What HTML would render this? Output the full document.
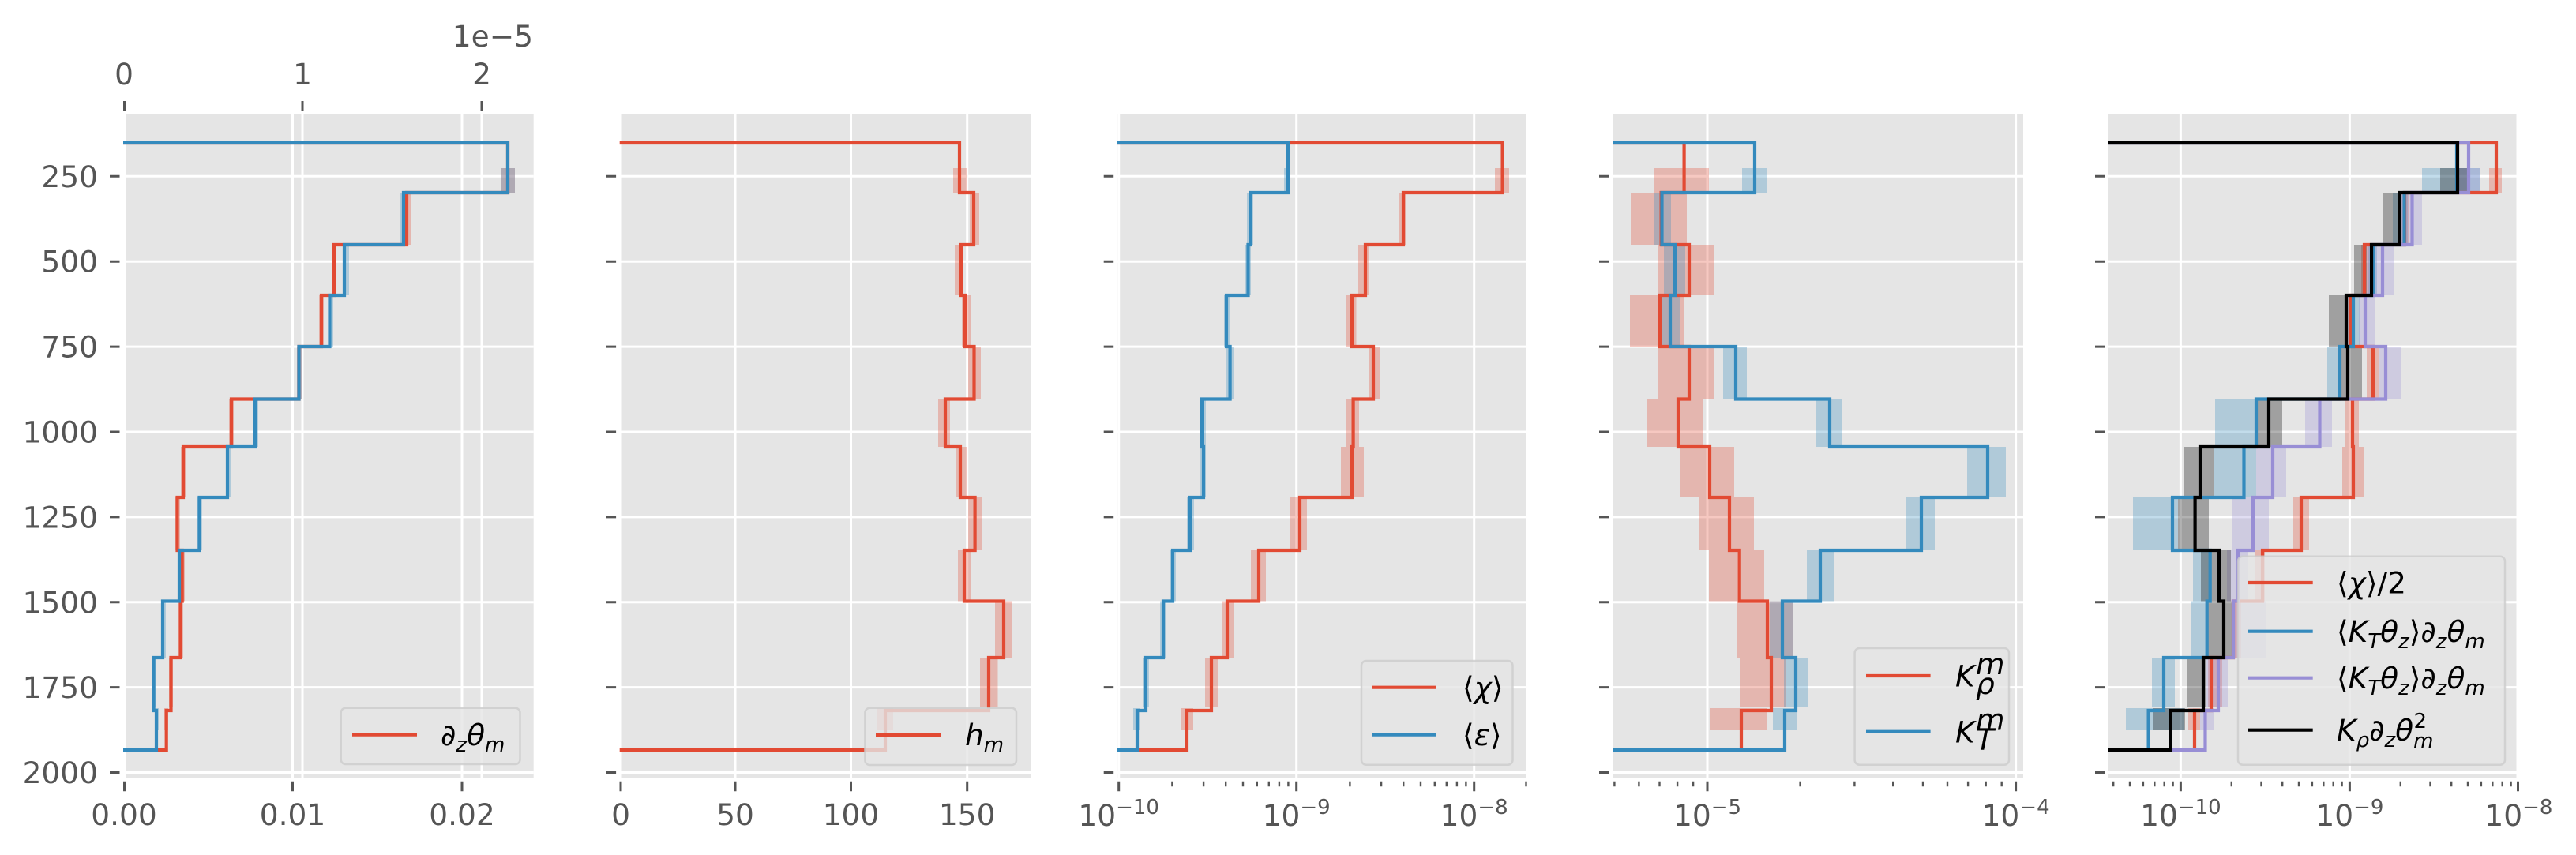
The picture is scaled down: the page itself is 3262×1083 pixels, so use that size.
<!DOCTYPE html>
<html><head><meta charset="utf-8"><style>
html,body{margin:0;padding:0;background:#fff;}
svg{display:block;font-family:"DejaVu Sans","Liberation Sans",sans-serif;}
.tl{font-size:37.5px;fill:#555555;}
.lg{font-size:37.5px;fill:#000;font-style:italic;}
.grid{stroke:#fff;stroke-width:3;}
.tk{stroke:#555555;stroke-width:3;}
.mtk{stroke:#555555;stroke-width:2.4;}
.ln{fill:none;stroke-width:4.2;stroke-linejoin:miter;stroke-linecap:butt;}
.leg{fill:#E5E5E5;fill-opacity:0.8;stroke:#CCCCCC;stroke-opacity:0.8;stroke-width:2.5;}
</style></head><body>
<svg width="3262" height="1083" viewBox="0 0 3262 1083" xmlns="http://www.w3.org/2000/svg">
<defs>
<clipPath id="c1"><rect x="156" y="144" width="519.7" height="841.7"/></clipPath>
<clipPath id="c2"><rect x="784.6" y="144" width="520.4" height="841.7"/></clipPath>
<clipPath id="c3"><rect x="1414.7" y="144" width="518.3" height="841.7"/></clipPath>
<clipPath id="c4"><rect x="2042" y="144" width="520" height="841.7"/></clipPath>
<clipPath id="c5"><rect x="2670" y="144" width="519.5" height="841.7"/></clipPath>
</defs>
<rect width="3262" height="1083" fill="#fff"/>

<!-- axes backgrounds -->
<rect x="156" y="144" width="519.7" height="841.7" fill="#E5E5E5"/>
<rect x="784.6" y="144" width="520.4" height="841.7" fill="#E5E5E5"/>
<rect x="1414.7" y="144" width="518.3" height="841.7" fill="#E5E5E5"/>
<rect x="2042" y="144" width="520" height="841.7" fill="#E5E5E5"/>
<rect x="2670" y="144" width="519.5" height="841.7" fill="#E5E5E5"/>

<!-- horizontal gridlines -->
<g class="grid">
<path d="M156,223.3H675.7M156,331.2H675.7M156,439.1H675.7M156,547H675.7M156,654.9H675.7M156,762.8H675.7M156,870.6H675.7M156,978.5H675.7"/>
<path d="M784.6,223.3H1305M784.6,331.2H1305M784.6,439.1H1305M784.6,547H1305M784.6,654.9H1305M784.6,762.8H1305M784.6,870.6H1305M784.6,978.5H1305"/>
<path d="M1414.7,223.3H1933M1414.7,331.2H1933M1414.7,439.1H1933M1414.7,547H1933M1414.7,654.9H1933M1414.7,762.8H1933M1414.7,870.6H1933M1414.7,978.5H1933"/>
<path d="M2042,223.3H2562M2042,331.2H2562M2042,439.1H2562M2042,547H2562M2042,654.9H2562M2042,762.8H2562M2042,870.6H2562M2042,978.5H2562"/>
<path d="M2670,223.3H3189.5M2670,331.2H3189.5M2670,439.1H3189.5M2670,547H3189.5M2670,654.9H3189.5M2670,762.8H3189.5M2670,870.6H3189.5M2670,978.5H3189.5"/>
<!-- vertical gridlines -->
<path d="M157.5,144V985.7M370.5,144V985.7M585,144V985.7M383,144V985.7M610,144V985.7"/>
<path d="M786,144V985.7M931,144V985.7M1077.5,144V985.7M1224.7,144V985.7"/>
<path d="M1416.7,144V985.7M1641.7,144V985.7M1866.7,144V985.7"/>
<path d="M2162,144V985.7M2552.6,144V985.7"/>
<path d="M2761.4,144V985.7M2975.4,144V985.7M3188,144V985.7"/>
</g>

<!-- ===== Panel 1 ===== -->
<g clip-path="url(#c1)">
<g fill="#E24A33" fill-opacity="0.3">
<rect x="634" y="213" width="18" height="32"/>
<rect x="512.5" y="245" width="8" height="65"/>
<rect x="420" y="310" width="6" height="64"/>
<rect x="404" y="374" width="6" height="65"/>
<rect x="376" y="439" width="6" height="66.5"/>
<rect x="290" y="505.5" width="6" height="60.5"/>
<rect x="229" y="566" width="6" height="64"/>
<rect x="222" y="630" width="6" height="67"/>
<rect x="228" y="697" width="6" height="64.5"/>
<rect x="226" y="761.5" width="6" height="71.5"/>
<rect x="214" y="833" width="5" height="63"/>
<rect x="208" y="897" width="5" height="28"/>
</g>
<g fill="#348ABD" fill-opacity="0.3">
<rect x="634" y="213" width="18" height="32"/>
<rect x="506.6" y="245" width="6" height="65"/>
<rect x="435" y="310" width="7" height="64"/>
<rect x="416" y="374" width="6" height="65"/>
<rect x="377" y="439" width="6" height="66.5"/>
<rect x="321" y="505.5" width="6" height="60.5"/>
<rect x="286" y="566" width="6" height="64"/>
<rect x="250" y="630" width="6" height="67"/>
<rect x="225" y="697" width="6" height="64.5"/>
<rect x="204" y="761.5" width="6" height="71.5"/>
<rect x="193" y="833" width="5" height="63"/>
<rect x="196" y="897" width="5" height="28"/>
</g>
<path class="ln" stroke="#E24A33" d="M156,181H643V244H515V310H423V374H407V439H378.5V505.5H293V566H232V630H224.5V697H230.7V761.5H228.6V833H216.5V900H210.7V950H156"/>
<path class="ln" stroke="#348ABD" d="M156,181H643V244H511V310H436V374H417.5V439H378.5V505.5H323V566H288V630H252.5V697H227V761.5H206V833H194.6V900H198V950H156"/>
</g>

<!-- ===== Panel 2 ===== -->
<g clip-path="url(#c2)">
<g fill="#E24A33" fill-opacity="0.3">
<rect x="1207" y="213" width="17" height="32"/>
<rect x="1228" y="245" width="12" height="65"/>
<rect x="1209" y="310" width="9" height="64"/>
<rect x="1218" y="374" width="11" height="65"/>
<rect x="1226" y="439" width="16" height="66.5"/>
<rect x="1188" y="505.5" width="15" height="60.5"/>
<rect x="1210" y="566" width="14" height="64"/>
<rect x="1226" y="630" width="18" height="67"/>
<rect x="1213" y="697" width="17" height="64.5"/>
<rect x="1260" y="761.5" width="22" height="71.5"/>
<rect x="1241" y="833" width="22.5" height="63"/>
<rect x="1110" y="897" width="21" height="28"/>
</g>
<path class="ln" stroke="#E24A33" d="M784.6,181H1215V244H1233V310H1217V374H1222V439H1233.5V505.5H1197V566H1216V630H1234.6V697H1221V761.5H1271V833H1252V900H1121V950H784.6"/>
</g>

<!-- ===== Panel 3 ===== -->
<g clip-path="url(#c3)">
<g fill="#E24A33" fill-opacity="0.3">
<rect x="1893" y="213" width="18" height="32"/>
<rect x="1771" y="245" width="9" height="65"/>
<rect x="1720" y="310" width="14" height="64"/>
<rect x="1704" y="374" width="13.5" height="65"/>
<rect x="1733" y="439" width="15" height="66.5"/>
<rect x="1704" y="505.5" width="17" height="60.5"/>
<rect x="1698" y="566" width="29" height="64"/>
<rect x="1634" y="630" width="21" height="67"/>
<rect x="1584" y="697" width="19" height="64.5"/>
<rect x="1547" y="761.5" width="15" height="71.5"/>
<rect x="1526" y="833" width="16" height="63"/>
<rect x="1496" y="897" width="15" height="28"/>
</g>
<g fill="#348ABD" fill-opacity="0.3">
<rect x="1626" y="213" width="7" height="32"/>
<rect x="1579" y="245" width="8" height="65"/>
<rect x="1576" y="310" width="8" height="64"/>
<rect x="1550" y="374" width="8" height="65"/>
<rect x="1553" y="439" width="10" height="66.5"/>
<rect x="1519" y="505.5" width="8" height="60.5"/>
<rect x="1520" y="566" width="7" height="64"/>
<rect x="1503" y="630" width="9" height="67"/>
<rect x="1481" y="697" width="8" height="64.5"/>
<rect x="1469" y="761.5" width="8" height="71.5"/>
<rect x="1447" y="833" width="8" height="63"/>
<rect x="1435" y="897" width="9" height="28"/>
</g>
<path class="ln" stroke="#E24A33" d="M1414.7,181H1902.6V244H1777V310H1729V374H1712V439H1739V505.5H1713.6V566H1712V630H1646V697H1594V761.5H1554V833H1534V900H1503V950H1414.7"/>
<path class="ln" stroke="#348ABD" d="M1414.7,181H1631V244H1583.6V310H1580.5V374H1553V439H1557.6V505.5H1522V566H1524V630H1507V697H1485V761.5H1473V833H1451V900H1440V950H1414.7"/>
</g>

<!-- ===== Panel 4 ===== -->
<g clip-path="url(#c4)">
<g fill="#E24A33" fill-opacity="0.3">
<rect x="2094" y="213" width="70" height="32"/>
<rect x="2065" y="245" width="71" height="65"/>
<rect x="2099" y="310" width="71" height="64"/>
<rect x="2064" y="374" width="69" height="65"/>
<rect x="2099" y="439" width="71" height="66.5"/>
<rect x="2085" y="505.5" width="71" height="60.5"/>
<rect x="2127" y="566" width="69" height="64"/>
<rect x="2151" y="630" width="70" height="67"/>
<rect x="2164" y="697" width="70" height="64.5"/>
<rect x="2200" y="761.5" width="71" height="71.5"/>
<rect x="2204" y="833" width="58" height="63"/>
<rect x="2166" y="897" width="71" height="28"/>
</g>
<g fill="#348ABD" fill-opacity="0.3">
<rect x="2206" y="213" width="31" height="32"/>
<rect x="2094" y="245" width="22" height="65"/>
<rect x="2107" y="310" width="27" height="64"/>
<rect x="2104" y="374" width="24" height="65"/>
<rect x="2182" y="439" width="30" height="66.5"/>
<rect x="2300" y="505.5" width="33" height="60.5"/>
<rect x="2491" y="566" width="49" height="64"/>
<rect x="2414" y="630" width="36" height="67"/>
<rect x="2288" y="697" width="34" height="64.5"/>
<rect x="2241" y="761.5" width="30" height="71.5"/>
<rect x="2259" y="833" width="30" height="63"/>
<rect x="2245" y="897" width="30" height="28"/>
</g>
<path class="ln" stroke="#E24A33" d="M2042,181H2132.6V244H2103.6V310H2139V374H2102V439H2139V505.5H2125V566H2165V630H2190V697H2202.7V761.5H2238V833H2243V900H2205V950H2042"/>
<path class="ln" stroke="#348ABD" d="M2042,181H2222V244H2104.5V310H2121V374H2115V439H2198V505.5H2317V566H2517V630H2433V697H2305V761.5H2257V833H2274V900H2260V950H2042"/>
</g>

<!-- ===== Panel 5 ===== -->
<g clip-path="url(#c5)">
<g fill="#E24A33" fill-opacity="0.3">
<rect x="3152" y="213" width="16" height="32"/>
<rect x="3040" y="245" width="10" height="65"/>
<rect x="2990" y="310" width="10" height="64"/>
<rect x="2972" y="374" width="10" height="65"/>
<rect x="2997" y="439" width="16" height="66.5"/>
<rect x="2970" y="505.5" width="17" height="60.5"/>
<rect x="2966" y="566" width="27" height="64"/>
<rect x="2904" y="630" width="20" height="67"/>
<rect x="2856" y="697" width="12" height="64.5"/>
<rect x="2826" y="761.5" width="12" height="71.5"/>
<rect x="2796" y="833" width="18" height="63"/>
<rect x="2771" y="897" width="15" height="28"/>
</g>
<g fill="#348ABD" fill-opacity="0.3">
<rect x="3067" y="213" width="73" height="32"/>
<rect x="3030" y="245" width="19" height="65"/>
<rect x="2998" y="310" width="12" height="64"/>
<rect x="2970" y="374" width="18" height="65"/>
<rect x="2947" y="439" width="14" height="66.5"/>
<rect x="2805" y="505.5" width="51" height="60.5"/>
<rect x="2803" y="566" width="54" height="64"/>
<rect x="2701" y="630" width="57" height="67"/>
<rect x="2777" y="697" width="23" height="64.5"/>
<rect x="2774" y="761.5" width="20" height="71.5"/>
<rect x="2725" y="833" width="29" height="63"/>
<rect x="2692" y="897" width="73" height="28"/>
</g>
<g fill="#988ED5" fill-opacity="0.3">
<rect x="3110" y="213" width="30" height="32"/>
<rect x="3041" y="245" width="26" height="65"/>
<rect x="2997" y="310" width="34" height="64"/>
<rect x="2987" y="374" width="21" height="65"/>
<rect x="3013" y="439" width="28" height="66.5"/>
<rect x="2919" y="505.5" width="34" height="60.5"/>
<rect x="2857" y="566" width="38" height="64"/>
<rect x="2827" y="630" width="46" height="67"/>
<rect x="2820" y="697" width="27" height="64.5"/>
<rect x="2826" y="761.5" width="43" height="71.5"/>
<rect x="2793" y="833" width="28" height="63"/>
<rect x="2786" y="897" width="18" height="28"/>
</g>
<g fill="#000" fill-opacity="0.3">
<rect x="3090" y="213" width="38" height="32"/>
<rect x="3018" y="245" width="19" height="65"/>
<rect x="2981" y="310" width="16" height="64"/>
<rect x="2949" y="374" width="20" height="65"/>
<rect x="2961" y="439" width="30" height="66.5"/>
<rect x="2856" y="505.5" width="34" height="60.5"/>
<rect x="2765" y="566" width="38" height="64"/>
<rect x="2758" y="630" width="39" height="67"/>
<rect x="2787" y="697" width="38" height="64.5"/>
<rect x="2793" y="761.5" width="34" height="71.5"/>
<rect x="2769" y="833" width="24" height="63"/>
<rect x="2726" y="897" width="41" height="28"/>
</g>
<path class="ln" stroke="#E24A33" d="M2670,181H3161V244H3045V310H2994V374H2977V439H3005V505.5H2979V566H2980V630H2914V697H2865V761.5H2828V833H2800V900H2779V950H2670"/>
<path class="ln" stroke="#348ABD" d="M2670,181H3111V244H3044.6V310H3005V374H2980V439H2963V505.5H2857V566H2841.5V630H2751V697H2798.7V761.5H2794.7V833H2740V900H2720.6V950H2670"/>
<path class="ln" stroke="#988ED5" d="M2670,181H3126V244H3054.5V310H3017V374H2995V439H3021V505.5H2937.5V566H2878V630H2853V697H2834V761.5H2828V833H2809V900H2792.5V950H2670"/>
<path class="ln" stroke="#000000" d="M2670,181H3112V244H3038.7V310H3003V374H2971V439H2973V505.5H2873V566H2786V630H2779.6V697H2810V761.5H2816V833H2790V900H2748.6V950H2670"/>
</g>

<!-- ===== y ticks ===== -->
<g class="tk">
<path d="M139,223.3H151.5M139,331.2H151.5M139,439.1H151.5M139,547H151.5M139,654.9H151.5M139,762.8H151.5M139,870.6H151.5M139,978.5H151.5"/>
<path d="M767.6,223.3H780.1M767.6,331.2H780.1M767.6,439.1H780.1M767.6,547H780.1M767.6,654.9H780.1M767.6,762.8H780.1M767.6,870.6H780.1M767.6,978.5H780.1"/>
<path d="M1397.7,223.3H1410.2M1397.7,331.2H1410.2M1397.7,439.1H1410.2M1397.7,547H1410.2M1397.7,654.9H1410.2M1397.7,762.8H1410.2M1397.7,870.6H1410.2M1397.7,978.5H1410.2"/>
<path d="M2025,223.3H2037.5M2025,331.2H2037.5M2025,439.1H2037.5M2025,547H2037.5M2025,654.9H2037.5M2025,762.8H2037.5M2025,870.6H2037.5M2025,978.5H2037.5"/>
<path d="M2653,223.3H2665.5M2653,331.2H2665.5M2653,439.1H2665.5M2653,547H2665.5M2653,654.9H2665.5M2653,762.8H2665.5M2653,870.6H2665.5M2653,978.5H2665.5"/>
<!-- bottom major ticks -->
<path d="M157.5,989.7V1002.3M370.5,989.7V1002.3M585,989.7V1002.3"/>
<path d="M786,989.7V1002.3M931,989.7V1002.3M1077.5,989.7V1002.3M1224.7,989.7V1002.3"/>
<path d="M1416.7,989.7V1002.3M1641.7,989.7V1002.3M1866.7,989.7V1002.3"/>
<path d="M2162,989.7V1002.3M2552.6,989.7V1002.3"/>
<path d="M2761.4,989.7V1002.3M2975.4,989.7V1002.3M3188.5,989.7V1002.3"/>
<!-- top ticks panel 1 -->
<path d="M157.5,128V140M383,128V140M610,128V140"/>
</g>
<g class="mtk">
<path d="M1484.4,989.7V996.3M1524.1,989.7V996.3M1552.2,989.7V996.3M1574,989.7V996.3M1591.8,989.7V996.3M1606.8,989.7V996.3M1619.9,989.7V996.3M1631.4,989.7V996.3M1709.4,989.7V996.3M1749.1,989.7V996.3M1777.2,989.7V996.3M1799,989.7V996.3M1816.8,989.7V996.3M1831.8,989.7V996.3M1844.9,989.7V996.3M1856.4,989.7V996.3M1932.5,989.7V996.3"/>
<path d="M2044.4,989.7V996.3M2075.4,989.7V996.3M2101.5,989.7V996.3M2124.1,989.7V996.3M2144.1,989.7V996.3M2279.6,989.7V996.3M2348.4,989.7V996.3M2397.2,989.7V996.3M2435,989.7V996.3M2466,989.7V996.3M2492.1,989.7V996.3M2514.7,989.7V996.3M2534.7,989.7V996.3"/>
<path d="M2676.2,989.7V996.3M2697,989.7V996.3M2713.9,989.7V996.3M2728.3,989.7V996.3M2740.7,989.7V996.3M2751.6,989.7V996.3M2825.8,989.7V996.3M2863.5,989.7V996.3M2890.2,989.7V996.3M2911,989.7V996.3M2927.9,989.7V996.3M2942.3,989.7V996.3M2954.7,989.7V996.3M2965.6,989.7V996.3M3039.8,989.7V996.3M3077.5,989.7V996.3M3104.2,989.7V996.3M3125,989.7V996.3M3141.9,989.7V996.3M3156.3,989.7V996.3M3168.7,989.7V996.3M3179.6,989.7V996.3"/>
</g>

<!-- ===== tick labels ===== -->
<g class="tl" text-anchor="end">
<text x="124" y="236.8">250</text>
<text x="124" y="344.7">500</text>
<text x="124" y="452.6">750</text>
<text x="124" y="560.5">1000</text>
<text x="124" y="668.4">1250</text>
<text x="124" y="776.3">1500</text>
<text x="124" y="884.1">1750</text>
<text x="124" y="992">2000</text>
</g>
<g class="tl" text-anchor="middle">
<text x="157" y="107">0</text>
<text x="383" y="107">1</text>
<text x="610" y="107">2</text>
<text x="157" y="1045">0.00</text>
<text x="370.5" y="1045">0.01</text>
<text x="585" y="1045">0.02</text>
<text x="786" y="1045">0</text>
<text x="931" y="1045">50</text>
<text x="1077.5" y="1045">100</text>
<text x="1224.7" y="1045">150</text>
<text x="1416.7" y="1046">10<tspan font-size="26" dy="-15">−10</tspan></text>
<text x="1641.7" y="1046">10<tspan font-size="26" dy="-15">−9</tspan></text>
<text x="1866.7" y="1046">10<tspan font-size="26" dy="-15">−8</tspan></text>
<text x="2162" y="1046">10<tspan font-size="26" dy="-15">−5</tspan></text>
<text x="2552.6" y="1046">10<tspan font-size="26" dy="-15">−4</tspan></text>
<text x="2761.4" y="1046">10<tspan font-size="26" dy="-15">−10</tspan></text>
<text x="2975.4" y="1046">10<tspan font-size="26" dy="-15">−9</tspan></text>
<text x="3189.4" y="1046">10<tspan font-size="26" dy="-15">−8</tspan></text>
</g>
<text class="tl" x="675" y="59" text-anchor="end">1e−5</text>

<!-- ===== legends ===== -->
<!-- P1 -->
<rect class="leg" x="431.7" y="896.7" width="226.8" height="71.3" rx="6"/>
<line x1="446" y1="930.7" x2="528" y2="930.7" stroke="#E24A33" stroke-width="4.2"/>
<text class="lg" x="558" y="944">∂<tspan font-size="26" dy="8">z</tspan><tspan dy="-8">θ</tspan><tspan font-size="26" dy="8">m</tspan></text>
<!-- P2 -->
<rect class="leg" x="1095.4" y="896.7" width="191.6" height="72.3" rx="6"/>
<line x1="1109" y1="931" x2="1191" y2="931" stroke="#E24A33" stroke-width="4.2"/>
<text class="lg" x="1222" y="944">h<tspan font-size="26" dy="8">m</tspan></text>
<!-- P3 -->
<rect class="leg" x="1724" y="837" width="191.5" height="131.7" rx="6"/>
<line x1="1737" y1="870.7" x2="1818.6" y2="870.7" stroke="#E24A33" stroke-width="4.2"/>
<line x1="1737" y1="930.7" x2="1818.6" y2="930.7" stroke="#348ABD" stroke-width="4.2"/>
<text class="lg" x="1852" y="884"><tspan font-style="normal">⟨</tspan>χ<tspan font-style="normal">⟩</tspan></text>
<text class="lg" x="1852" y="944"><tspan font-style="normal">⟨</tspan>ε<tspan font-style="normal">⟩</tspan></text>
<!-- P4 -->
<rect class="leg" x="2348.6" y="821" width="195.4" height="147.7" rx="6"/>
<line x1="2363" y1="856" x2="2444.6" y2="856" stroke="#E24A33" stroke-width="4.2"/>
<line x1="2363" y1="926.7" x2="2444.6" y2="926.7" stroke="#348ABD" stroke-width="4.2"/>
<text class="lg" x="2476" y="869.7">K</text>
<text class="lg" x="2502" y="854" font-size="26">m</text>
<text class="lg" x="2502" y="879" font-size="26">ρ</text>
<text class="lg" x="2476" y="940.4">K</text>
<text class="lg" x="2502" y="924.7" font-size="26">m</text>
<text class="lg" x="2502" y="949.5" font-size="26">T</text>
<!-- P5 -->
<rect class="leg" x="2834" y="704.7" width="338" height="264" rx="6"/>
<line x1="2847" y1="738" x2="2928.7" y2="738" stroke="#E24A33" stroke-width="4.2"/>
<line x1="2847" y1="799.7" x2="2928.7" y2="799.7" stroke="#348ABD" stroke-width="4.2"/>
<line x1="2847" y1="858.7" x2="2928.7" y2="858.7" stroke="#988ED5" stroke-width="4.2"/>
<line x1="2847" y1="924.7" x2="2928.7" y2="924.7" stroke="#000000" stroke-width="4.2"/>
<text class="lg" x="2959" y="751.5"><tspan font-style="normal">⟨</tspan>χ<tspan font-style="normal">⟩/2</tspan></text>
<text class="lg" x="2959" y="813"><tspan font-style="normal">⟨</tspan>K<tspan font-size="26" dy="8">T</tspan><tspan dy="-8">θ</tspan><tspan font-size="26" dy="8">z</tspan><tspan font-style="normal" dy="-8">⟩</tspan>∂<tspan font-size="26" dy="8">z</tspan><tspan dy="-8">θ</tspan><tspan font-size="26" dy="8">m</tspan></text>
<text class="lg" x="2959" y="872"><tspan font-style="normal">⟨</tspan>K<tspan font-size="26" dy="8">T</tspan><tspan dy="-8">θ</tspan><tspan font-size="26" dy="8">z</tspan><tspan font-style="normal" dy="-8">⟩</tspan>∂<tspan font-size="26" dy="8">z</tspan><tspan dy="-8">θ</tspan><tspan font-size="26" dy="8">m</tspan></text>
<text class="lg" x="2959" y="938">K<tspan font-size="26" dy="8">ρ</tspan><tspan dy="-8">∂</tspan><tspan font-size="26" dy="8">z</tspan><tspan dy="-8">θ</tspan><tspan font-size="26" dy="9">m</tspan><tspan font-size="26" font-style="normal" dx="-25" dy="-25">2</tspan></text>
</svg>
</body></html>
